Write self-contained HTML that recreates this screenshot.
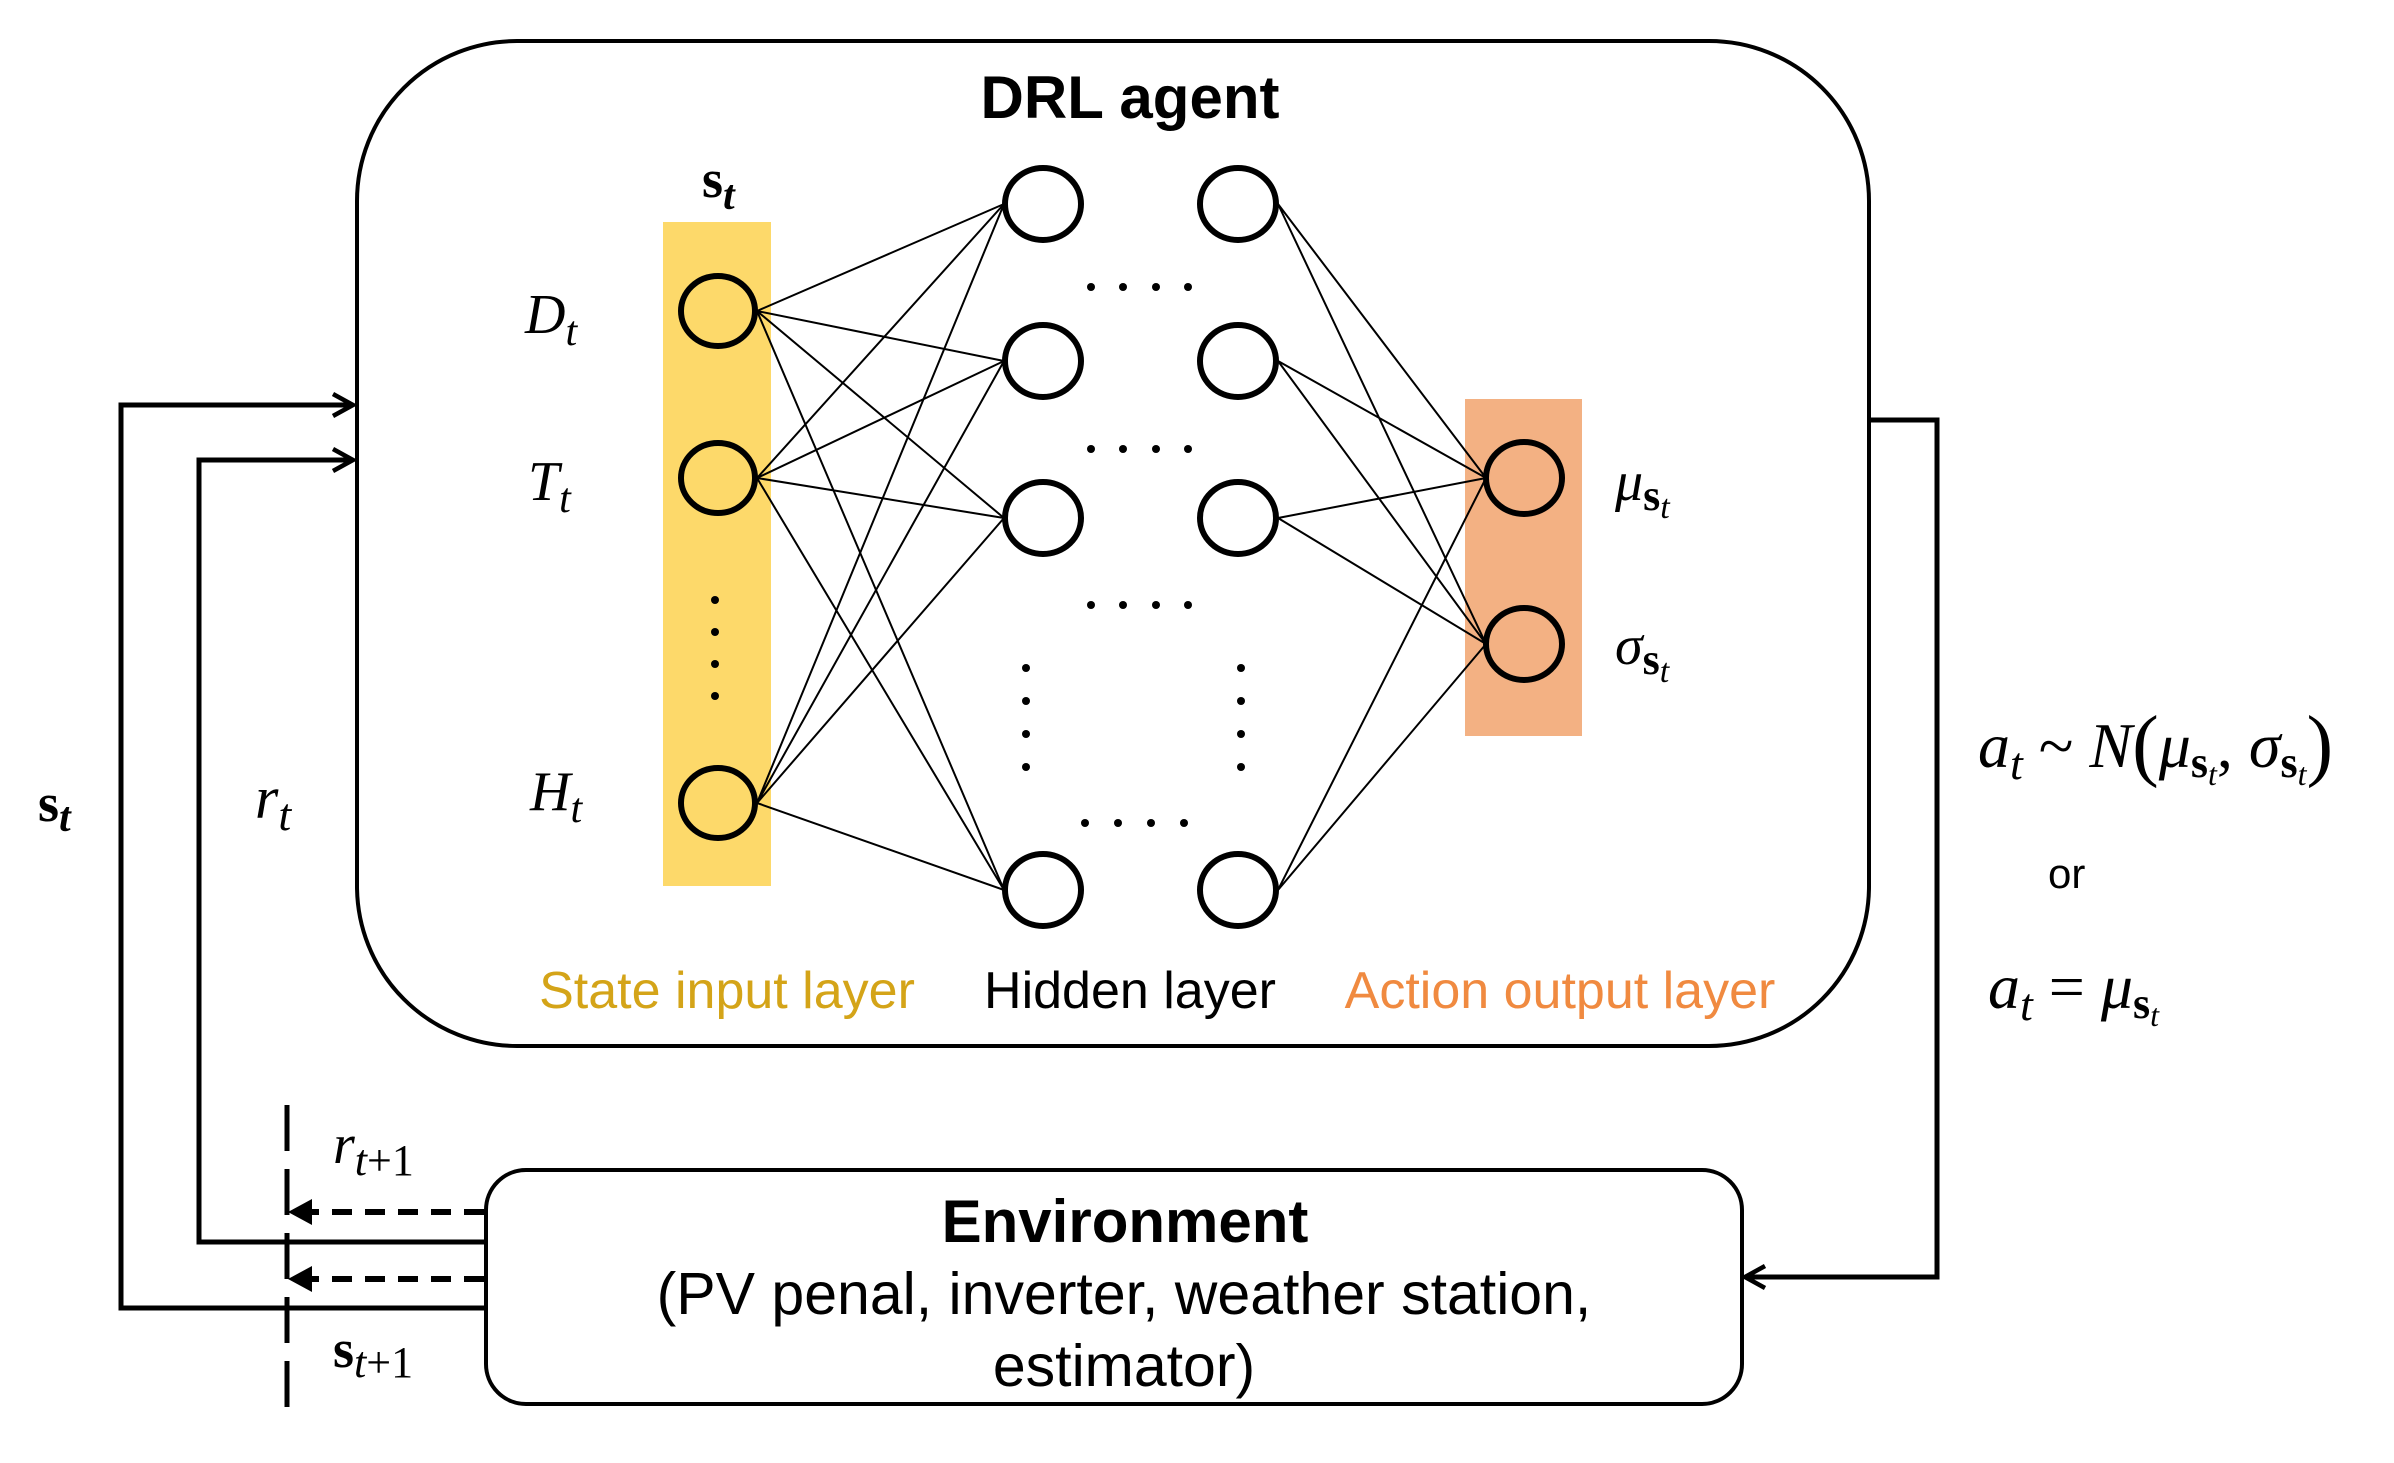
<!DOCTYPE html>
<html><head><meta charset="utf-8"><style>
html,body{margin:0;padding:0;background:#fff}
svg{display:block}
.m{font-family:"Liberation Serif",serif;font-style:italic}
.b{font-family:"Liberation Serif",serif;font-weight:bold}
.s{font-family:"Liberation Sans",sans-serif}
</style></head><body>
<svg width="2394" height="1463" viewBox="0 0 2394 1463" xmlns="http://www.w3.org/2000/svg">
<defs>
<marker id="ao" markerWidth="30" markerHeight="30" refX="22" refY="13" orient="auto" markerUnits="userSpaceOnUse"><path d="M2,2 L22,13 L2,24" fill="none" stroke="#000" stroke-width="4.5"/></marker>
</defs>
<rect x="357" y="41" width="1512" height="1005" rx="160" ry="160" fill="none" stroke="#000" stroke-width="4"/>
<text x="1130" y="118" class="s" font-size="60" font-weight="bold" text-anchor="middle">DRL agent</text>
<rect x="663" y="222" width="108" height="664" fill="#FDD96A"/>
<rect x="1465" y="399" width="117" height="337" fill="#F3B183"/>
<g stroke="#000" stroke-width="2" fill="none">
<path d="M757,311 L1004,204 M757,311 L1004,361 M757,311 L1004,518 M757,311 L1004,890"/>
<path d="M757,478 L1004,204 M757,478 L1004,361 M757,478 L1004,518 M757,478 L1004,890"/>
<path d="M757,803 L1004,204 M757,803 L1004,361 M757,803 L1004,518 M757,803 L1004,890"/>
<path d="M1278,204 L1486,478 M1278,204 L1486,644 M1278,361 L1486,478 M1278,361 L1486,644 M1278,518 L1486,478 M1278,518 L1486,644 M1278,890 L1486,478 M1278,890 L1486,644"/>
</g>
<g stroke="#000" stroke-width="6">
<ellipse cx="718" cy="311" rx="37" ry="35" fill="#FDD96A"/>
<ellipse cx="718" cy="478" rx="37" ry="35" fill="#FDD96A"/>
<ellipse cx="718" cy="803" rx="37" ry="35" fill="#FDD96A"/>
<ellipse cx="1043" cy="204" rx="38" ry="36" fill="#fff"/>
<ellipse cx="1043" cy="361" rx="38" ry="36" fill="#fff"/>
<ellipse cx="1043" cy="518" rx="38" ry="36" fill="#fff"/>
<ellipse cx="1043" cy="890" rx="38" ry="36" fill="#fff"/>
<ellipse cx="1238" cy="204" rx="38" ry="36" fill="#fff"/>
<ellipse cx="1238" cy="361" rx="38" ry="36" fill="#fff"/>
<ellipse cx="1238" cy="518" rx="38" ry="36" fill="#fff"/>
<ellipse cx="1238" cy="890" rx="38" ry="36" fill="#fff"/>
<ellipse cx="1524" cy="478" rx="38" ry="36" fill="#F3B183"/>
<ellipse cx="1524" cy="644" rx="38" ry="36" fill="#F3B183"/>
</g>
<g fill="#000">
<circle cx="715" cy="600" r="4"/><circle cx="715" cy="632" r="4"/><circle cx="715" cy="664" r="4"/><circle cx="715" cy="696" r="4"/>
<circle cx="1091" cy="287" r="4"/><circle cx="1123" cy="287" r="4"/><circle cx="1156" cy="287" r="4"/><circle cx="1188" cy="287" r="4"/>
<circle cx="1091" cy="449" r="4"/><circle cx="1123" cy="449" r="4"/><circle cx="1156" cy="449" r="4"/><circle cx="1188" cy="449" r="4"/>
<circle cx="1091" cy="605" r="4"/><circle cx="1123" cy="605" r="4"/><circle cx="1156" cy="605" r="4"/><circle cx="1188" cy="605" r="4"/>
<circle cx="1085" cy="823" r="4"/><circle cx="1118" cy="823" r="4"/><circle cx="1151" cy="823" r="4"/><circle cx="1184" cy="823" r="4"/>
<circle cx="1026" cy="668" r="4"/><circle cx="1026" cy="701" r="4"/><circle cx="1026" cy="734" r="4"/><circle cx="1026" cy="767" r="4"/>
<circle cx="1241" cy="668" r="4"/><circle cx="1241" cy="701" r="4"/><circle cx="1241" cy="734" r="4"/><circle cx="1241" cy="767" r="4"/>
</g>
<text x="702" y="197" class="b" font-size="54">s<tspan class="m" font-size="42" dy="12">t</tspan></text>
<text x="525" y="333" class="m" font-size="56">D<tspan font-size="42" dy="12">t</tspan></text>
<text x="528" y="500" class="m" font-size="56">T<tspan font-size="42" dy="12">t</tspan></text>
<text x="530" y="810" class="m" font-size="56">H<tspan font-size="42" dy="12">t</tspan></text>
<text x="1615" y="500" class="m" font-size="56">μ<tspan class="b" font-style="normal" font-size="44" dy="10">s</tspan><tspan font-size="34" dy="8">t</tspan></text>
<text x="1615" y="664" class="m" font-size="56">σ<tspan class="b" font-style="normal" font-size="44" dy="10">s</tspan><tspan font-size="34" dy="8">t</tspan></text>
<text x="727" y="1008" class="s" font-size="52" fill="#D4A418" text-anchor="middle">State input layer</text>
<text x="1130" y="1008" class="s" font-size="52" text-anchor="middle">Hidden layer</text>
<text x="1560" y="1008" class="s" font-size="52" fill="#F08A40" text-anchor="middle">Action output layer</text>
<path d="M1869,420 L1937,420 L1937,1277 L1745,1277" fill="none" stroke="#000" stroke-width="5" marker-end="url(#ao)"/>
<rect x="486" y="1170" width="1256" height="234" rx="40" ry="40" fill="none" stroke="#000" stroke-width="4"/>
<text x="1125" y="1242" class="s" font-size="60" font-weight="bold" text-anchor="middle">Environment</text>
<text x="1124" y="1314" class="s" font-size="59" text-anchor="middle">(PV penal, inverter, weather station,</text>
<text x="1124" y="1386" class="s" font-size="59" text-anchor="middle">estimator)</text>
<path d="M486,1308 L121,1308 L121,405 L353,405" fill="none" stroke="#000" stroke-width="5" marker-end="url(#ao)"/>
<path d="M486,1242 L199,1242 L199,460 L353,460" fill="none" stroke="#000" stroke-width="5" marker-end="url(#ao)"/>
<g stroke="#000" stroke-width="6" fill="none" stroke-dasharray="20,13">
<path d="M484,1212 L305,1212"/>
<path d="M484,1279 L305,1279"/>
</g>
<path d="M288,1212 L312,1199 L312,1225 Z"/>
<path d="M288,1279 L312,1266 L312,1292 Z"/>
<path d="M287,1105 L287,1409" stroke="#000" stroke-width="5" stroke-dasharray="46,18"/>
<text x="333" y="1163" class="m" font-size="56">r<tspan font-size="44" dy="12" font-style="italic">t</tspan><tspan font-size="44" font-style="normal">+1</tspan></text>
<text x="333" y="1367" class="b" font-size="54">s<tspan class="m" font-weight="normal" font-size="44" dy="10">t</tspan><tspan font-size="44" font-weight="normal">+1</tspan></text>
<text x="38" y="821" class="b" font-size="54">s<tspan class="m" font-size="42" dy="10">t</tspan></text>
<text x="255" y="818" class="m" font-size="60">r<tspan font-size="46" dy="12">t</tspan></text>
<text x="1978" y="767" class="m" font-size="64">a<tspan font-size="46" dy="12">t</tspan><tspan font-style="normal" dy="-12"> ~ </tspan>N<tspan font-style="normal" font-size="80" dy="4">(</tspan><tspan dy="-4">μ</tspan><tspan class="b" font-style="normal" font-size="44" dy="10">s</tspan><tspan font-size="32" dy="8">t</tspan><tspan font-style="normal" dy="-18">, </tspan>σ<tspan class="b" font-style="normal" font-size="44" dy="10">s</tspan><tspan font-size="32" dy="8">t</tspan><tspan font-style="normal" font-size="80" dy="-14">)</tspan></text>
<text x="2048" y="888" class="s" font-size="42">or</text>
<text x="1988" y="1008" class="m" font-size="64">a<tspan font-size="46" dy="12">t</tspan><tspan font-style="normal" dy="-12"> = </tspan>μ<tspan class="b" font-style="normal" font-size="44" dy="10">s</tspan><tspan font-size="32" dy="8">t</tspan></text>
</svg>
</body></html>
